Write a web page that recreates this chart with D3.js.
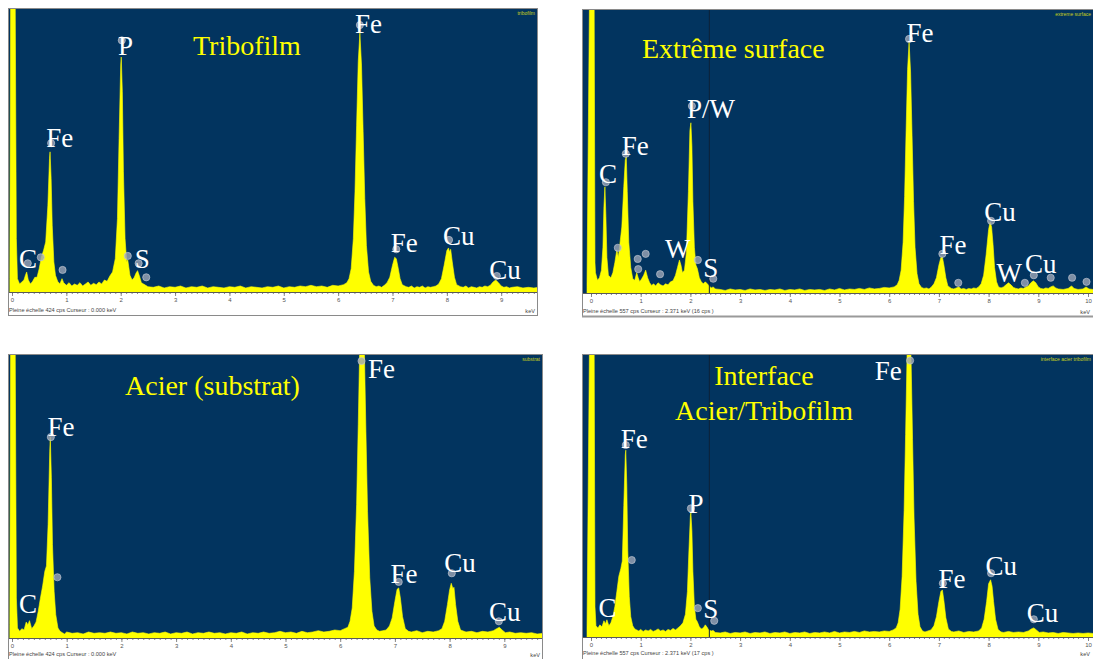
<!DOCTYPE html>
<html>
<head>
<meta charset="utf-8">
<script src="https://cdn.jsdelivr.net/npm/d3@7"></script>
<style>
  html, body { margin: 0; padding: 0; background: #ffffff; }
  svg { display: block; }
</style>
</head>
<body>
<svg id="chart" width="1093" height="659"></svg>
<script>
// ---------------- DATA ----------------
// energy (keV), counts (cps)
const spectrumTribofilm = [
  [-0.04,20],[-0.02,600],[0.05,600],[0.08,80],[0.10,20],[0.14,12],[0.18,15],[0.22,18],[0.25,26],[0.27,30],[0.30,18],
  [0.34,12],[0.38,16],[0.42,22],[0.46,22],[0.50,35],[0.54,52],[0.58,62],[0.62,75],[0.66,130],[0.69,200],[0.70,210],
  [0.72,170],[0.74,100],[0.77,45],[0.80,25],[0.84,16],[0.88,12],[0.92,20],[0.95,14],[1.00,10],[1.05,14],[1.10,9],
  [1.15,12],[1.20,10],[1.25,14],[1.30,9],[1.35,12],[1.40,15],[1.45,10],[1.50,13],[1.55,11],[1.60,15],[1.65,12],
  [1.70,18],[1.75,16],[1.80,24],[1.85,30],[1.90,50],[1.94,110],[1.97,230],[2.00,340],[2.01,352],[2.03,300],
  [2.05,180],[2.08,80],[2.11,45],[2.13,48],[2.17,25],[2.21,18],[2.25,22],[2.28,28],[2.31,32],[2.34,25],[2.38,14],
  [2.42,12],[2.46,10],[2.50,8],[2.6,7],[2.7,9],[2.8,6],[2.9,8],[3.0,7],[3.1,9],[3.2,6],[3.3,8],[3.4,7],[3.5,9],
  [3.6,6],[3.7,8],[3.8,7],[3.9,6],[4.0,8],[4.1,7],[4.2,9],[4.3,6],[4.4,8],[4.5,7],[4.6,6],[4.7,8],[4.8,7],[4.9,9],
  [5.0,6],[5.1,8],[5.2,7],[5.3,9],[5.4,8],[5.5,10],[5.6,8],[5.7,9],[5.8,7],[5.9,10],[6.0,9],[6.1,11],
  [6.16,14],[6.20,20],[6.24,35],[6.28,80],[6.31,150],[6.34,250],[6.37,345],[6.40,388],[6.43,340],[6.46,240],
  [6.49,140],[6.52,70],[6.56,30],[6.60,16],[6.65,10],[6.70,8],[6.75,9],[6.80,7],[6.85,10],[6.90,14],[6.95,22],
  [7.00,40],[7.04,52],[7.07,50],[7.10,38],[7.14,20],[7.18,11],[7.25,8],[7.30,7],[7.35,9],[7.40,6],[7.45,8],
  [7.50,7],[7.55,9],[7.60,6],[7.65,8],[7.70,7],[7.75,8],[7.80,9],[7.85,12],[7.90,20],[7.95,40],[8.00,62],
  [8.03,66],[8.05,60],[8.07,64],[8.10,45],[8.14,22],[8.18,11],[8.25,8],[8.30,7],[8.35,9],[8.40,6],[8.45,8],
  [8.50,7],[8.55,6],[8.60,8],[8.65,7],[8.70,9],[8.75,8],[8.80,10],[8.85,15],[8.90,18],[8.95,14],[9.00,9],
  [9.05,7],[9.10,8],[9.15,6],[9.20,7],[9.30,8],[9.40,6],[9.50,7],[9.60,6],[9.70,7]
];
const spectrumSurface = [
  [-0.08,20],[-0.02,700],[0.06,700],[0.08,60],[0.09,40],[0.13,25],[0.17,30],[0.21,45],[0.24,90],[0.26,170],
  [0.28,209],[0.30,150],[0.32,70],[0.35,35],[0.40,30],[0.44,40],[0.48,60],[0.52,85],[0.55,70],[0.58,95],
  [0.62,130],[0.66,210],[0.69,262],[0.71,268],[0.73,200],[0.76,100],[0.80,50],[0.84,28],[0.88,25],[0.92,40],
  [0.95,30],[0.98,22],[1.02,28],[1.06,35],[1.10,45],[1.14,30],[1.18,20],[1.22,15],[1.26,18],[1.30,14],[1.35,20],
  [1.40,16],[1.45,14],[1.50,18],[1.55,16],[1.60,22],[1.65,24],[1.70,35],[1.74,50],[1.78,65],[1.81,55],[1.84,40],
  [1.88,45],[1.92,80],[1.96,200],[1.99,320],[2.01,335],[2.03,290],[2.05,180],[2.08,90],[2.11,55],[2.14,48],
  [2.18,30],[2.22,22],[2.26,18],[2.30,22],[2.34,18],[2.38,14],[2.42,10],[2.46,12],[2.50,8],[2.6,7],[2.7,5],
  [2.8,8],[2.9,6],[3.0,7],[3.1,5],[3.2,8],[3.3,6],[3.4,7],[3.5,5],[3.6,7],[3.7,6],[3.8,8],[3.9,5],[4.0,7],
  [4.1,6],[4.2,8],[4.3,5],[4.4,7],[4.5,6],[4.6,7],[4.7,5],[4.8,8],[4.9,6],[5.0,9],[5.1,6],[5.2,8],[5.3,7],
  [5.4,9],[5.5,7],[5.6,10],[5.7,8],[5.8,9],[5.9,11],[6.0,10],[6.1,12],[6.16,16],[6.20,25],[6.24,45],[6.28,100],
  [6.31,190],[6.34,320],[6.37,440],[6.40,494],[6.43,435],[6.46,310],[6.49,180],[6.52,90],[6.56,38],[6.60,18],
  [6.65,11],[6.70,9],[6.75,10],[6.80,8],[6.85,12],[6.90,18],[6.95,30],[7.00,55],[7.04,70],[7.07,71],[7.10,55],
  [7.14,30],[7.18,14],[7.25,9],[7.30,8],[7.35,10],[7.40,12],[7.45,8],[7.50,9],[7.55,7],[7.60,9],[7.65,8],
  [7.70,10],[7.75,9],[7.80,12],[7.85,18],[7.90,35],[7.95,75],[8.00,125],[8.03,140],[8.06,130],[8.09,95],
  [8.12,50],[8.16,22],[8.20,12],[8.25,10],[8.30,12],[8.35,16],[8.40,20],[8.45,16],[8.50,11],[8.55,9],[8.60,8],
  [8.65,10],[8.70,9],[8.75,12],[8.80,14],[8.85,20],[8.90,24],[8.95,20],[9.00,12],[9.05,9],[9.10,8],[9.15,10],
  [9.20,9],[9.25,12],[9.30,14],[9.35,10],[9.40,8],[9.50,7],[9.60,9],[9.67,14],[9.72,9],[9.80,7],[9.90,8],
  [9.96,12],[10.02,8],[10.10,7],[10.20,6]
];
const spectrumAcier = [
  [-0.04,20],[-0.02,600],[0.05,600],[0.08,60],[0.10,15],[0.14,10],[0.18,14],[0.22,12],[0.26,24],[0.29,20],
  [0.32,26],[0.36,14],[0.40,18],[0.44,24],[0.48,40],[0.52,60],[0.56,78],[0.60,100],[0.63,108],[0.66,170],
  [0.69,280],[0.70,301],[0.72,240],[0.74,140],[0.77,70],[0.80,35],[0.84,15],[0.88,10],[0.92,8],[0.96,6],
  [1.0,9],[1.1,7],[1.2,8],[1.3,6],[1.4,9],[1.5,7],[1.6,8],[1.7,7],[1.8,9],[1.9,7],[2.0,8],[2.1,6],[2.2,9],
  [2.3,7],[2.4,8],[2.5,6],[2.6,8],[2.7,7],[2.8,9],[2.9,6],[3.0,8],[3.1,7],[3.2,9],[3.3,6],[3.4,8],[3.5,7],
  [3.6,9],[3.7,7],[3.8,8],[3.9,6],[4.0,8],[4.1,7],[4.2,9],[4.3,6],[4.4,8],[4.5,7],[4.6,9],[4.7,7],[4.8,8],
  [4.9,10],[5.0,8],[5.1,9],[5.2,7],[5.3,10],[5.4,8],[5.5,9],[5.6,11],[5.7,9],[5.8,10],[5.9,12],[6.0,11],
  [6.08,14],[6.14,16],[6.18,25],[6.22,45],[6.26,100],[6.30,200],[6.33,320],[6.36,450],[6.40,520],[6.44,440],
  [6.47,310],[6.50,190],[6.54,90],[6.58,40],[6.62,18],[6.67,12],[6.72,10],[6.78,11],[6.84,12],[6.90,18],
  [6.95,30],[7.00,55],[7.04,73],[7.07,75],[7.10,60],[7.14,32],[7.19,14],[7.25,10],[7.3,9],[7.4,11],[7.5,8],
  [7.6,10],[7.7,9],[7.8,11],[7.86,14],[7.91,25],[7.96,50],[8.00,72],[8.03,82],[8.06,74],[8.08,76],[8.11,50],
  [8.15,25],[8.20,12],[8.3,9],[8.4,10],[8.5,8],[8.6,10],[8.7,9],[8.8,11],[8.86,14],[8.91,16],[8.96,12],
  [9.02,8],[9.1,9],[9.2,7],[9.3,8],[9.4,7],[9.5,8],[9.6,6],[9.7,7]
];
const spectrumInterface = [
  [-0.08,20],[-0.02,700],[0.06,700],[0.08,60],[0.10,22],[0.14,18],[0.18,24],[0.22,20],[0.26,32],[0.29,26],
  [0.32,34],[0.36,22],[0.40,28],[0.44,40],[0.48,60],[0.52,90],[0.56,120],[0.60,135],[0.63,150],[0.66,260],
  [0.69,360],[0.70,369],[0.72,300],[0.74,170],[0.77,80],[0.80,40],[0.84,22],[0.88,16],[0.92,14],[0.96,12],
  [1.0,15],[1.05,11],[1.1,14],[1.15,12],[1.2,15],[1.25,11],[1.3,13],[1.35,16],[1.4,12],[1.45,14],[1.5,11],
  [1.55,15],[1.6,13],[1.65,17],[1.7,14],[1.75,18],[1.8,22],[1.85,28],[1.9,45],[1.94,90],[1.97,170],[2.00,240],
  [2.01,245],[2.03,210],[2.05,130],[2.08,60],[2.11,35],[2.14,30],[2.18,20],[2.22,16],[2.26,18],[2.30,24],
  [2.33,20],[2.37,14],[2.42,12],[2.46,13],[2.50,9],[2.6,8],[2.7,10],[2.8,7],[2.9,9],[3.0,8],[3.1,10],[3.2,7],
  [3.3,9],[3.4,8],[3.5,10],[3.6,7],[3.7,9],[3.8,8],[3.9,10],[4.0,7],[4.1,9],[4.2,8],[4.3,10],[4.4,7],[4.5,9],
  [4.6,8],[4.7,10],[4.8,8],[4.9,11],[5.0,8],[5.1,10],[5.2,9],[5.3,11],[5.4,9],[5.5,12],[5.6,10],[5.7,11],
  [5.8,10],[5.9,12],[6.0,11],[6.08,14],[6.14,18],[6.18,28],[6.22,55],[6.26,120],[6.30,250],[6.33,400],
  [6.36,560],[6.40,650],[6.44,550],[6.47,390],[6.50,235],[6.54,110],[6.58,45],[6.62,20],[6.67,12],[6.72,10],
  [6.78,12],[6.84,14],[6.90,22],[6.95,40],[7.00,70],[7.04,90],[7.07,93],[7.10,72],[7.14,38],[7.19,16],
  [7.25,11],[7.3,10],[7.4,12],[7.5,9],[7.6,11],[7.7,10],[7.8,12],[7.86,18],[7.91,35],[7.96,70],[8.00,105],
  [8.04,113],[8.07,100],[8.10,70],[8.14,35],[8.19,15],[8.25,10],[8.3,9],[8.4,11],[8.5,9],[8.6,10],[8.7,9],
  [8.8,12],[8.86,16],[8.91,18],[8.96,14],[9.02,9],[9.1,10],[9.2,8],[9.3,9],[9.4,7],[9.5,9],[9.6,8],[9.7,7],
  [9.8,8],[9.9,7],[10.0,8],[10.1,7],[10.2,7]
];

// peak markers (keV, cps)
const markersTribofilm = [[0.29,43],[0.53,52],[0.72,223],[0.93,33],[2.02,377],[2.13,54],[2.33,43],[2.47,22],[6.40,400],[7.07,64],[8.04,78],[8.92,24]];
const markersSurface = [[0.30,218],[0.54,89],[0.70,274],[0.94,67],[0.95,47],[1.10,77],[1.39,37],[2.03,368],[2.15,65],[2.46,28],[6.40,500],[7.07,77],[7.39,20],[8.05,142],[8.73,20],[8.91,35],[9.25,30],[9.68,30],[9.97,22]];
const markersAcier = [[0.71,301],[0.83,91],[6.39,415],[7.07,84],[8.04,97],[8.90,25]];
const markersInterface = [[0.70,379],[0.82,152],[2.01,254],[2.15,57],[2.48,32],[6.42,546],[7.08,106],[8.05,126],[8.91,35]];

// element labels: text, keV (left edge), cps (baseline)
const labelsTribofilm = [["C",0.13,36],["Fe",0.63,217],["P",1.95,355],["S",2.26,36],["Fe",6.31,388],["Fe",6.97,60],["Cu",7.93,70],["Cu",8.78,19]];
const labelsSurface = [["C",0.16,216],["Fe",0.62,272],["P/W",1.93,344],["W",1.49,69],["S",2.26,31],["Fe",6.35,494],["Fe",7.01,77],["Cu",7.91,142],["W",8.16,22],["Cu",8.73,39]];
const labelsAcier = [["Fe",0.65,302],["C",0.13,37],["Fe",6.51,389],["Fe",6.92,82],["Cu",7.90,99],["Cu",8.72,25]];
const labelsInterface = [["Fe",0.60,373],["P",1.96,244],["C",0.15,40],["S",2.26,37],["Fe",5.71,508],["Fe",6.99,96],["Cu",7.94,122],["Cu",8.77,30]];

const titles = [["Tribofilm"], ["Extrême surface"], ["Acier (substrat)"], ["Interface", "Acier/Tribofilm"]];
const tagNames = ["tribofilm", "extreme surface", "substrat", "interface acier tribofilm"];
const fullScales = [424, 557, 424, 557];
const cursorTexts = ["Curseur : 0.000 keV", "Curseur : 2.371 keV  (16 cps )", "Curseur : 0.000 keV", "Curseur : 2.371 keV  (17 cps )"];
const cursorKeV = [null, 2.371, null, 2.371];
const ticks9 = [0,1,2,3,4,5,6,7,8,9];
const ticks10 = [0,1,2,3,4,5,6,7,8,9,10];

// ---------------- LAYOUT ----------------
const panels = [
  { frame:[8,8,538,316], plot:[9,9,537,292], xr:[12,501.2], kmax:9, ticks:ticks9, foot:20,
    spectrum:spectrumTribofilm, markers:markersTribofilm, labels:labelsTribofilm,
    title:{x:193, y:[55], anchor:"start"} },
  { frame:[582,9,1100,317], plot:[583,10,1100,293], xr:[591,1088], kmax:10, ticks:ticks10, foot:20,
    spectrum:spectrumSurface, markers:markersSurface, labels:labelsSurface,
    title:{x:642, y:[58], anchor:"start"} },
  { frame:[8,354,543,662], plot:[9,355,542,638], xr:[12,504.3], kmax:9, ticks:ticks9, foot:18,
    spectrum:spectrumAcier, markers:markersAcier, labels:labelsAcier,
    title:{x:125, y:[395], anchor:"start"} },
  { frame:[582,354,1100,662], plot:[583,355,1100,637], xr:[591,1088], kmax:10, ticks:ticks10, foot:18,
    spectrum:spectrumInterface, markers:markersInterface, labels:labelsInterface,
    title:{x:764, y:[385,420], anchor:"middle"} }
];

const svg = d3.select("#chart");
const defs = svg.append("defs");
const BLUE = "#02345f";
const YELLOW = "#ffff00";

panels.forEach((p, i) => {
  const [fx0, fy0, fx1, fy1] = p.frame;
  const [px0, py0, px1, py1] = p.plot;
  const g = svg.append("g");

  // frame (white strip + gray border)
  g.append("rect").attr("x", fx0 + 0.5).attr("y", fy0 + 0.5)
    .attr("width", fx1 - fx0 - 1).attr("height", fy1 - fy0 - 1)
    .attr("fill", "#ffffff").attr("stroke", "#8a8a8a").attr("stroke-width", 1);
  if (i === 1 || i === 0) {
    g.append("line").attr("x1", fx0).attr("x2", fx1).attr("y1", fy1 - 0.5).attr("y2", fy1 - 0.5)
      .attr("stroke", i === 1 ? "#9a9a9a" : "#8a8a8a").attr("stroke-width", i === 1 ? 2 : 1);
  }

  // plot background
  g.append("rect").attr("x", px0).attr("y", py0).attr("width", px1 - px0).attr("height", py1 - py0)
    .attr("fill", BLUE);

  const x = d3.scaleLinear().domain([0, p.kmax]).range(p.xr);
  const y = d3.scaleLinear().domain([0, fullScales[i]]).range([py1, py0]);

  const clipId = "clip" + i;
  defs.append("clipPath").attr("id", clipId)
    .append("rect").attr("x", px0).attr("y", py0).attr("width", px1 - px0).attr("height", py1 - py0);
  const pg = g.append("g").attr("clip-path", `url(#${clipId})`);

  // spectrum
  const area = d3.area().x(d => x(d[0])).y0(y(0)).y1(d => y(d[1]));
  pg.append("path").datum(p.spectrum).attr("d", area)
    .attr("fill", YELLOW).attr("stroke", YELLOW).attr("stroke-width", 0.6);

  // cursor line
  if (cursorKeV[i] !== null) {
    pg.append("line").attr("x1", x(cursorKeV[i]) + 0.5).attr("x2", x(cursorKeV[i]) + 0.5)
      .attr("y1", py0).attr("y2", py1).attr("stroke", "#0d2238").attr("stroke-width", 1);
  }

  // peak markers
  pg.selectAll("circle.mk").data(p.markers).join("circle").attr("class", "mk")
    .attr("cx", d => x(d[0])).attr("cy", d => y(d[1])).attr("r", 3.6)
    .attr("fill", "#9ea6b6").attr("fill-opacity", 0.8)
    .attr("stroke", "#c9ced8").attr("stroke-width", 0.6);

  // element labels
  pg.selectAll("text.el").data(p.labels).join("text").attr("class", "el")
    .attr("x", d => x(d[1])).attr("y", d => y(d[2]))
    .attr("fill", "#ffffff").attr("font-family", "'Liberation Serif', 'Times New Roman', serif")
    .attr("font-size", 27).text(d => d[0]);

  // title
  titles[i].forEach((t, j) => {
    pg.append("text").attr("x", p.title.x).attr("y", p.title.y[j])
      .attr("text-anchor", p.title.anchor)
      .attr("fill", YELLOW).attr("font-family", "'Liberation Serif', 'Times New Roman', serif")
      .attr("font-size", 28).text(t);
  });

  // tiny tag at top-right
  pg.append("text").attr("x", i % 2 === 0 ? px1 - 2 : 1091).attr("y", py0 + 6)
    .attr("text-anchor", "end")
    .attr("fill", "#c8d21a").attr("font-family", "Arial, 'Liberation Sans', sans-serif")
    .attr("font-size", 5).text(tagNames[i]);

  // axis
  const minor = d3.range(0, Math.floor(((Math.min(px1, 1093) - p.xr[0]) / (p.xr[1] - p.xr[0])) * p.kmax * 10) + 1).map(v => v / 10);
  const axMinor = d3.axisBottom(x).tickValues(minor).tickSize(2).tickFormat("");
  const axMajor = d3.axisBottom(x).tickValues(p.ticks).tickSize(4).tickPadding(2)
    .tickFormat(d3.format("d"));
  const ag = g.append("g").attr("transform", `translate(0,${py1})`);
  ag.call(axMinor);
  ag.select(".domain").remove();
  const ag2 = g.append("g").attr("transform", `translate(0,${py1})`);
  ag2.call(axMajor);
  ag2.select(".domain").remove();
  g.selectAll(".tick line").attr("stroke", "#6a6a6a").attr("stroke-width", 0.8);
  ag2.selectAll(".tick text").attr("font-size", 6).attr("fill", "#555")
    .attr("font-family", "Arial, 'Liberation Sans', sans-serif");
  g.append("line").attr("x1", px0).attr("x2", px1).attr("y1", py1 + 0.5).attr("y2", py1 + 0.5)
    .attr("stroke", "#5a5a5a").attr("stroke-width", 1);

  // footer
  g.append("text").attr("x", fx0 + 1).attr("y", py1 + p.foot)
    .attr("font-size", 5.6).attr("fill", "#444").attr("font-family", "Arial, 'Liberation Sans', sans-serif")
    .text(`Pleine échelle ${fullScales[i]} cps   ${cursorTexts[i]}`);
  g.append("text").attr("x", Math.min(fx1, 1093) - 3).attr("y", py1 + p.foot + 1).attr("text-anchor", "end")
    .attr("font-size", 5.6).attr("fill", "#444").attr("font-family", "Arial, 'Liberation Sans', sans-serif")
    .text("keV");
});
</script>
</body>
</html>
